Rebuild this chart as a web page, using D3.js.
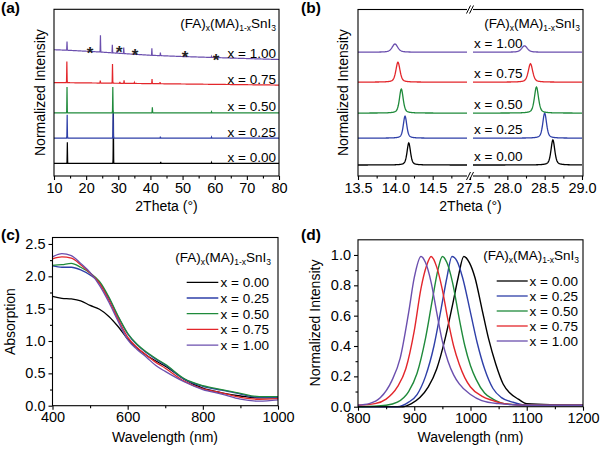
<!DOCTYPE html>
<html><head><meta charset="utf-8">
<script src="https://cdn.jsdelivr.net/npm/d3@7"></script>
<style>body{margin:0;background:#fff}</style>
</head><body>
<script>
// ---------- shared ----------
const seriesNames = ["x = 0.00","x = 0.25","x = 0.50","x = 0.75","x = 1.00"];
const seriesColors = ["#000000","#2e3fa8","#1f8a3b","#e3262b","#6b4fae"];

// ---------- (a) XRD wide range: peaks [2theta, height] ----------
const xrdOffsets = [0, 0.5, 1.0, 1.6, 2.2];
const xrdPeaks = [
  [[14.15,0.42],[28.47,1.0],[43.2,0.03],[59.0,0.02]],
  [[14.1,0.46],[28.4,0.52],[43.1,0.03],[59.0,0.02]],
  [[14.05,0.51],[28.3,0.51],[40.6,0.11],[59.0,0.02]],
  [[14.0,0.42],[24.4,0.05],[28.2,0.38],[30.5,0.03],[31.8,0.06],[35.0,0.02],[40.5,0.09],[43.0,0.03]],
  [[14.05,0.17],[24.45,0.33],[28.15,0.16],[29.6,0.05],[31.7,0.12],[40.45,0.14],[43.1,0.06],[50.5,0.03],[59.0,0.02]]
];
const xrdBackground = [
  [[10,0],[80,0]],
  [[10,0],[80,0]],
  [[10,0],[80,0]],
  [[10,0],[80,-0.05]],
  [[10,0.05],[14,0.04],[20,0.02],[24,0.006],[30,-0.02],[40,-0.06],[50,-0.085],[60,-0.105],[70,-0.125],[80,-0.144]]
];
const starMarks = [[21.2,2.27],[30.3,2.30],[35.2,2.24],[50.8,2.195],[60.4,2.14]];
const xrdTicks = [10,20,30,40,50,60,70,80];
const xrdMinor = [15,25,35,45,55,65,75];

// ---------- (b) XRD zoom: peaks [2theta, height, fwhm] ----------
const zoomOffsets = [0, 1.05, 2.03, 3.24, 4.41];
const zoomPeaks = [
  [[14.18,0.86,0.055],[28.61,0.98,0.06]],
  [[14.13,0.86,0.055],[28.50,0.98,0.06]],
  [[14.08,0.94,0.06],[28.39,1.02,0.065]],
  [[14.035,0.78,0.065],[28.31,0.72,0.07]],
  [[13.995,0.32,0.09],[28.23,0.25,0.09]]
];
const zoomTicks = [13.5,14.0,14.5,27.5,28.0,28.5,29.0];
const zoomMinor = [13.75,14.25,14.75,27.75,28.25,28.75];

// ---------- (c) absorption ----------
const absWavelength = [400,425,450,475,500,525,550,575,600,625,650,675,700,750,800,850,900,950,1000];
const absValues = [
  [1.69,1.66,1.65,1.62,1.55,1.49,1.38,1.22,1.03,0.89,0.78,0.69,0.61,0.41,0.27,0.20,0.15,0.12,0.12],
  [2.16,2.14,2.14,2.10,2.02,1.90,1.66,1.37,1.11,0.94,0.82,0.72,0.63,0.41,0.30,0.24,0.18,0.13,0.13],
  [2.17,2.18,2.20,2.14,2.05,1.92,1.68,1.38,1.12,0.95,0.83,0.73,0.64,0.42,0.31,0.25,0.19,0.14,0.14],
  [2.27,2.30,2.28,2.18,2.05,1.89,1.63,1.33,1.06,0.90,0.78,0.67,0.58,0.38,0.26,0.20,0.13,0.10,0.11],
  [2.30,2.35,2.32,2.20,2.06,1.86,1.60,1.30,1.02,0.87,0.75,0.62,0.53,0.37,0.25,0.18,0.10,0.07,0.09]
];
const absXTicks = [400,600,800,1000];
const absXMinor = [500,700,900];
const absYTicks = [0,0.5,1.0,1.5,2.0,2.5];
const absYMinor = [0.25,0.75,1.25,1.75,2.25];

// ---------- (d) PL, each series [wavelength, intensity] ----------
const plData = [
  [[800,0.0],[880,0.0],[895,0.02],[910,0.06],[925,0.13],[940,0.25],[955,0.45],[968,0.67],[978,0.85],[988,0.99],[998,0.95],[1008,0.85],[1020,0.65],[1032,0.45],[1045,0.28],[1058,0.15],[1070,0.09],[1085,0.05],[1100,0.02],[1200,0.01]],
  [[800,0.0],[870,0.0],[890,0.03],[905,0.08],[920,0.20],[935,0.40],[948,0.65],[958,0.85],[967,0.99],[976,0.96],[986,0.85],[1000,0.62],[1012,0.42],[1025,0.25],[1040,0.12],[1055,0.06],[1075,0.03],[1100,0.01],[1200,0.01]],
  [[800,0.0],[850,0.01],[870,0.03],[890,0.10],[905,0.22],[920,0.45],[932,0.70],[942,0.90],[950,0.99],[958,0.95],[968,0.82],[980,0.58],[990,0.40],[1000,0.27],[1010,0.18],[1025,0.09],[1040,0.05],[1060,0.02],[1100,0.01],[1200,0.01]],
  [[800,0.01],[830,0.02],[850,0.05],[870,0.13],[885,0.25],[900,0.50],[912,0.78],[922,0.93],[930,0.99],[940,0.92],[950,0.77],[960,0.57],[970,0.40],[980,0.28],[990,0.19],[1000,0.13],[1020,0.07],[1040,0.04],[1060,0.02],[1100,0.01],[1200,0.01]],
  [[800,0.01],[820,0.02],[840,0.06],[860,0.17],[875,0.32],[890,0.62],[900,0.85],[912,0.99],[920,0.95],[930,0.82],[940,0.62],[950,0.43],[960,0.30],[970,0.21],[980,0.15],[1000,0.08],[1020,0.04],[1050,0.02],[1100,0.01],[1200,0.01]]
];
const plXTicks = [800,900,1000,1100,1200];
const plXMinor = [850,950,1050,1150];
const plYTicks = [0,0.2,0.4,0.6,0.8,1.0];
const plYMinor = [0.1,0.3,0.5,0.7,0.9];

// ================= drawing =================
const FONT = '"Liberation Sans", Arial, Helvetica, sans-serif';
const FS = 14.5;
const svg = d3.select("body").append("svg").attr("width",600).attr("height",450)
  .style("font-family",FONT);

function frame(x0,x1,y0,y1){
  svg.append("rect").attr("x",x0).attr("y",y0).attr("width",x1-x0).attr("height",y1-y0)
    .attr("fill","none").attr("stroke","#000").attr("stroke-width",1.1);
}
function styleAxis(g){
  g.select(".domain").remove();
  g.attr("font-family",FONT).attr("font-size",FS);
  g.selectAll("line").attr("stroke","#000").attr("stroke-width",1.1);
  g.selectAll("text").attr("fill","#000");
}
function bottomAxis(x,y0,major,minor,fmt){
  const g1 = svg.append("g").attr("transform",`translate(0,${y0})`)
    .call(d3.axisBottom(x).tickValues(minor).tickSize(2.5).tickFormat(""));
  styleAxis(g1);
  const g2 = svg.append("g").attr("transform",`translate(0,${y0})`)
    .call(d3.axisBottom(x).tickValues(major).tickSize(4).tickPadding(2.5).tickFormat(fmt));
  styleAxis(g2);
}
function leftAxis(y,x0,major,minor,fmt){
  const g1 = svg.append("g").attr("transform",`translate(${x0},0)`)
    .call(d3.axisLeft(y).tickValues(minor).tickSize(2.5).tickFormat(""));
  styleAxis(g1);
  const g2 = svg.append("g").attr("transform",`translate(${x0},0)`)
    .call(d3.axisLeft(y).tickValues(major).tickSize(4).tickPadding(3).tickFormat(fmt));
  styleAxis(g2);
}
function text(x,y,s,opts={}){
  const t = svg.append("text").attr("x",x).attr("y",y).text(s)
    .attr("font-size",opts.size||FS).attr("fill","#000");
  if(opts.anchor) t.attr("text-anchor",opts.anchor);
  if(opts.bold) t.attr("font-weight","bold");
  if(opts.rotate) t.attr("transform",`rotate(-90,${x},${y})`);
  return t;
}
function formulaTitle(x,y,anchor){
  const t = svg.append("text").attr("x",x).attr("y",y).attr("text-anchor",anchor)
    .attr("font-size",13.5).attr("fill","#000");
  const parts = [["(FA)",0],["x",1],["(MA)",0],["1-x",1],["SnI",0],["3",1]];
  let down=false;
  parts.forEach(([s,sub])=>{
    const ts = t.append("tspan").text(s);
    if(sub){ ts.attr("font-size",8.5).attr("dy",down?0:3); down=true; }
    else { ts.attr("dy",down?-3:0); down=false; }
  });
}
function panelLabel(x,y,s){ text(x,y,s,{size:15.5,bold:true}); }

// ---------- (a) ----------
{
  const x = d3.scaleLinear().domain([10,80]).range([54,279]);
  const y = d3.scaleLinear().domain([-0.25,3.05]).range([176,9.3]);
  const line = d3.line().x(d=>x(d[0])).y(d=>y(d[1]));
  xrdPeaks.forEach((peaks,i)=>{
    const bgf = d3.scaleLinear().domain(xrdBackground[i].map(d=>d[0])).range(xrdBackground[i].map(d=>d[1]));
    let xs = d3.range(10,80.0001,0.1);
    peaks.forEach(([c])=>[-0.2,-0.1,-0.05,0,0.05,0.1,0.2].forEach(d=>xs.push(c+d)));
    xs = xs.filter(v=>v>=10&&v<=80).sort((a,b)=>a-b);
    const pts = xs.map(v=>[v, xrdOffsets[i] + bgf(v) + d3.sum(peaks,([c,h])=>h*Math.exp(-0.5*((v-c)/0.045)**2))]);
    svg.append("path").attr("d",line(pts)).attr("fill","none")
      .attr("stroke",seriesColors[i]).attr("stroke-width",1.2);
    const endY = y(xrdOffsets[i] + bgf(80));
    text(276, endY-1.5, seriesNames[i], {anchor:"end", size:13.5});
  });
  starMarks.forEach(([sx,sy])=>{
    svg.append("text").attr("x",x(sx)).attr("y",y(sy)).attr("dy","0.62em")
      .attr("text-anchor","middle").attr("font-size",17).attr("font-weight","bold")
      .attr("fill","#222").text("*");
  });
  frame(54,279,9.3,176);
  bottomAxis(x,176,xrdTicks,xrdMinor,d3.format("d"));
  formulaTitle(276,28,"end");
  text(166.5,211,"2Theta (°)",{anchor:"middle",size:14});
  text(45,92.6,"Normalized Intensity",{anchor:"middle",rotate:true,size:14});
  panelLabel(1,13,"(a)");
}

// ---------- (b) ----------
{
  const x = d3.scaleLinear().domain([13.5,15.0,27.5,29.0]).range([358,470,470,582]);
  const y = d3.scaleLinear().domain([-0.43,6.08]).range([176,9.5]);
  const line = d3.line().x(d=>x(d[0])).y(d=>y(d[1]));
  const pv = (v,c,h,w)=>{ const t=(v-c)/(w/2); return h*(0.5/(1+t*t)+0.5*Math.exp(-Math.LN2*t*t)); };
  zoomPeaks.forEach((peaks,i)=>{
    [[13.5,14.96],[27.54,29.0]].forEach(([lo,hi])=>{
      const pts = d3.range(lo,hi+1e-9,0.005).map(v=>[v, zoomOffsets[i] + d3.sum(peaks,([c,h,w])=>pv(v,c,h,w))]);
      svg.append("path").attr("d",line(pts)).attr("fill","none")
        .attr("stroke",seriesColors[i]).attr("stroke-width",1.3);
    });
    text(474, y(zoomOffsets[i])-4, seriesNames[i], {size:13.5});
  });
  frame(358,583,9.5,176);
  bottomAxis(x,176,zoomTicks,zoomMinor,d3.format(".1f"));
  // axis break marks
  [9.5,176].forEach(yy=>{
    svg.append("rect").attr("x",467).attr("y",yy-1.5).attr("width",6).attr("height",3).attr("fill","#fff");
    [[466.5,470.5],[469.5,473.5]].forEach(([a,b])=>{
      svg.append("line").attr("x1",a).attr("y1",yy+4).attr("x2",b).attr("y2",yy-4)
        .attr("stroke","#000").attr("stroke-width",1);
    });
  });
  formulaTitle(580,28,"end");
  text(470.5,211,"2Theta (°)",{anchor:"middle",size:14});
  text(348,92.7,"Normalized Intensity",{anchor:"middle",rotate:true,size:14});
  panelLabel(301,13,"(b)");
}

// ---------- (c) ----------
{
  const x = d3.scaleLinear().domain([400,1000]).range([52.5,278]);
  const y = d3.scaleLinear().domain([0,2.6]).range([405.7,237.5]);
  const line = d3.line().x(d=>x(d[0])).y(d=>y(d[1])).curve(d3.curveMonotoneX);
  absValues.forEach((vals,i)=>{
    svg.append("path").attr("d",line(absWavelength.map((w,j)=>[w,vals[j]]))).attr("fill","none")
      .attr("stroke",seriesColors[i]).attr("stroke-width",1.3);
  });
  frame(52.5,278,237.5,405.7);
  bottomAxis(x,405.7,absXTicks,absXMinor,d3.format("d"));
  leftAxis(y,52.5,absYTicks,absYMinor,d3.format(".1f"));
  formulaTitle(271,262,"end");
  seriesNames.forEach((s,i)=>{
    const cy = 282.3 + i*15.7;
    svg.append("line").attr("x1",186.7).attr("x2",218.3).attr("y1",cy).attr("y2",cy)
      .attr("stroke",seriesColors[i]).attr("stroke-width",1.3);
    text(220.5, cy+4.8, s, {size:13.5});
  });
  text(165,441.5,"Wavelength (nm)",{anchor:"middle",size:14});
  text(15,321.6,"Absorption",{anchor:"middle",rotate:true,size:14});
  panelLabel(1,240,"(c)");
}

// ---------- (d) ----------
{
  const x = d3.scaleLinear().domain([800,1200]).range([358,583]);
  const y = d3.scaleLinear().domain([0,1.1]).range([406.7,239.8]);
  const line = d3.line().x(d=>x(d[0])).y(d=>y(d[1])).curve(d3.curveMonotoneX);
  plData.forEach((pts,i)=>{
    svg.append("path").attr("d",line(pts)).attr("fill","none")
      .attr("stroke",seriesColors[i]).attr("stroke-width",1.4);
  });
  frame(358,583,239.8,406.7);
  bottomAxis(x,406.7,plXTicks,plXMinor,d3.format("d"));
  leftAxis(y,358,plYTicks,plYMinor,d3.format(".1f"));
  formulaTitle(579,260,"end");
  seriesNames.forEach((s,i)=>{
    const cy = 281 + i*15;
    svg.append("line").attr("x1",496.7).attr("x2",527.7).attr("y1",cy).attr("y2",cy)
      .attr("stroke",seriesColors[i]).attr("stroke-width",1.3);
    text(529.5, cy+4.8, s, {size:13.5});
  });
  text(470.5,441.5,"Wavelength (nm)",{anchor:"middle",size:14});
  text(320,323,"Normalized Intensity",{anchor:"middle",rotate:true,size:14});
  panelLabel(301,240,"(d)");
}
</script>
</body></html>
